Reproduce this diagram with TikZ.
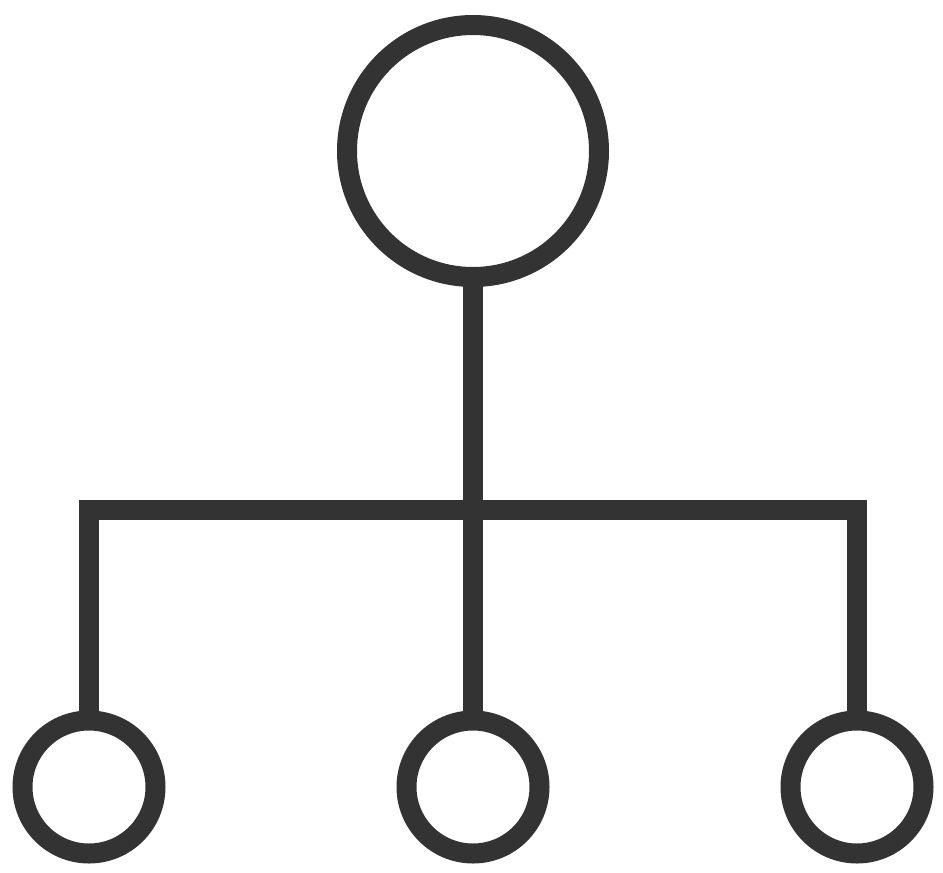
\documentclass[tikz,border=0pt]{standalone}
\begin{document}
\begin{tikzpicture}[x=1pt,y=-1pt,
  ink/.style={draw=inkc,line width=20pt},
  bigc/.style={ink,circle,minimum size=252pt,inner sep=0pt,outer sep=0pt},
  smallc/.style={ink,circle,minimum size=133pt,inner sep=0pt,outer sep=0pt},
  link/.style={ink,line join=miter,line cap=butt}]
\definecolor{inkc}{HTML}{333333}
\useasboundingbox[fill=white] (0,0) rectangle (943,873);
\node[bigc] (top) at (473,151) {};
\node[smallc] (l) at (89,787) {};
\node[smallc] (m) at (473,787) {};
\node[smallc] (r) at (857,787) {};
\coordinate (j) at (473,510);
\draw[link] (top.south) -- (m.north);
\draw[link] (l.north) |- (j) -| (r.north);
\end{tikzpicture}
\end{document}
